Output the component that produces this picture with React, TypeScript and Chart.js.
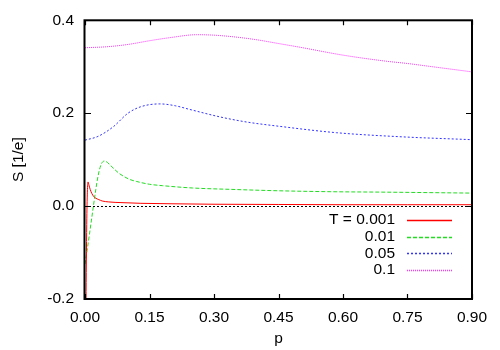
import React, { useEffect, useRef } from "react";
import { Chart, registerables } from "chart.js";

Chart.register(...registerables);

const LABELS = ["T = 0.001", "0.01", "0.05", "0.1"];
const COLORS = ["#ff0000", "#22dd22", "#3333ff", "#ff33ff"];
const DASHES: number[][] = [[], [4, 2], [2, 2], [1, 1]];

const P_T001 = [0, 0.0023, 0.004, 0.0055, 0.007, 0.009, 0.012, 0.016, 0.02, 0.025, 0.032, 0.04, 0.055, 0.07, 0.1, 0.13, 0.2, 0.3, 0.45, 0.6, 0.75, 0.9];
const S_T001 = [-0.3, -0.2, -0.04, 0.03, 0.052, 0.046, 0.036, 0.027, 0.021, 0.017, 0.014, 0.011, 0.009, 0.008, 0.007, 0.006, 0.005, 0.004, 0.0035, 0.003, 0.003, 0.003];

const P_T01 = [0, 0.005, 0.01, 0.015, 0.02, 0.025, 0.03, 0.035, 0.04, 0.046, 0.052, 0.06, 0.07, 0.08, 0.09, 0.105, 0.12, 0.15, 0.18, 0.25, 0.34, 0.45, 0.57, 0.7, 0.9];
const S_T01 = [-0.125, -0.095, -0.063, -0.03, 0.003, 0.035, 0.063, 0.083, 0.094, 0.097, 0.094, 0.087, 0.078, 0.07, 0.064, 0.057, 0.053, 0.047, 0.044, 0.039, 0.036, 0.033, 0.031, 0.03, 0.028];

const P_T05 = [0, 0.03, 0.066, 0.1, 0.13, 0.174, 0.21, 0.244, 0.314, 0.376, 0.45, 0.585, 0.74, 0.9];
const S_T05 = [0.142, 0.15, 0.171, 0.2, 0.214, 0.22, 0.216, 0.208, 0.192, 0.181, 0.172, 0.158, 0.149, 0.143];

const P_T1 = [0, 0.05, 0.1, 0.15, 0.2, 0.26, 0.3, 0.35, 0.4, 0.45, 0.5, 0.6, 0.7, 0.75, 0.8, 0.9];
const S_T1 = [0.341, 0.343, 0.348, 0.356, 0.363, 0.369, 0.368, 0.364, 0.358, 0.35, 0.342, 0.325, 0.312, 0.307, 0.301, 0.289];

const X_TICKS = [0, 0.15, 0.3, 0.45, 0.6, 0.75, 0.9];
const Y_TICKS = [-0.2, 0, 0.2, 0.4];

const FONT = "'Liberation Sans', Arial, sans-serif";
const FS = 15.5;

const pts = (xs: number[], ys: number[]) => xs.map((x, i) => ({ x, y: ys[i] }));

const framePlugin = {
  id: "frame",
  afterDatasetsDraw(chart: any) {
    const { ctx, chartArea: a, scales } = chart;
    ctx.save();
    // zero axis
    const y0 = Math.round(scales.y.getPixelForValue(0)) + 0.5;
    ctx.strokeStyle = "#000";
    ctx.lineWidth = 1;
    ctx.setLineDash([2, 2]);
    ctx.beginPath();
    ctx.moveTo(a.left, y0);
    ctx.lineTo(a.right, y0);
    ctx.stroke();
    ctx.setLineDash([]);
    // frame
    ctx.lineWidth = 2;
    ctx.strokeRect(a.left - 0.5, a.top, a.right - a.left + 0.5, a.bottom - a.top);
    // inward ticks
    ctx.lineWidth = 1.2;
    ctx.beginPath();
    X_TICKS.forEach((v) => {
      const x = Math.round(scales.x.getPixelForValue(v)) + 0.5;
      ctx.moveTo(x, a.bottom);
      ctx.lineTo(x, a.bottom - 5);
      ctx.moveTo(x, a.top);
      ctx.lineTo(x, a.top + 5);
    });
    Y_TICKS.forEach((v) => {
      const y = Math.round(scales.y.getPixelForValue(v)) + 0.5;
      ctx.moveTo(a.left, y);
      ctx.lineTo(a.left + 6, y);
      ctx.moveTo(a.right, y);
      ctx.lineTo(a.right - 6, y);
    });
    ctx.stroke();
    // legend
    ctx.font = FS + "px " + FONT;
    ctx.textAlign = "right";
    ctx.textBaseline = "middle";
    LABELS.forEach((label, i) => {
      const y = 220 + i * 16.7;
      ctx.fillStyle = "#000";
      ctx.fillText(label, 395, y);
      ctx.strokeStyle = COLORS[i];
      ctx.lineWidth = 1.5;
      ctx.setLineDash(DASHES[i]);
      ctx.beginPath();
      ctx.moveTo(407, Math.round(y) + 0.5);
      ctx.lineTo(452, Math.round(y) + 0.5);
      ctx.stroke();
    });
    ctx.restore();
  },
};

export default function App() {
  const ref = useRef<HTMLCanvasElement>(null);
  useEffect(() => {
    if (!ref.current) return;
    const series = [pts(P_T001, S_T001), pts(P_T01, S_T01), pts(P_T05, S_T05), pts(P_T1, S_T1)];
    const chart = new Chart(ref.current, {
      type: "line",
      data: {
        datasets: series.map((data, i) => ({
          label: LABELS[i],
          data,
          borderColor: COLORS[i],
          borderDash: DASHES[i],
          borderWidth: 1,
          pointRadius: 0,
          fill: false,
          cubicInterpolationMode: "monotone" as const,
        })),
      },
      options: {
        animation: false,
        responsive: false,
        maintainAspectRatio: false,
        layout: { padding: { left: 0, top: 20, right: 28, bottom: 0 } },
        plugins: { legend: { display: false }, tooltip: { enabled: false } },
        scales: {
          x: {
            type: "linear",
            min: 0,
            max: 0.9,
            afterBuildTicks: (s: any) => { s.ticks = X_TICKS.map((v) => ({ value: v })); },
            afterFit: (s: any) => { s.height = 51; },
            grid: { display: false, drawTicks: false },
            border: { display: false },
            ticks: { color: "#000", font: { family: FONT, size: FS }, padding: 9, maxRotation: 0, autoSkip: false, callback: (v: any) => Number(v).toFixed(2) },
            title: { display: true, text: "p", color: "#000", font: { family: FONT, size: FS }, padding: { top: 0, bottom: 2 } },
          },
          y: {
            type: "linear",
            min: -0.2,
            max: 0.4,
            afterBuildTicks: (s: any) => { s.ticks = Y_TICKS.map((v) => ({ value: v })); },
            afterFit: (s: any) => { s.width = 85; },
            grid: { display: false, drawTicks: false },
            border: { display: false },
            ticks: { color: "#000", font: { family: FONT, size: FS }, padding: 11, autoSkip: false, callback: (v: any) => Number(v).toFixed(1) },
            title: { display: true, text: "S [1/e]", color: "#000", font: { family: FONT, size: FS }, padding: { top: 9, bottom: 0 } },
          },
        },
      },
      plugins: [framePlugin],
    });
    return () => chart.destroy();
  }, []);
  return (
    <div style={{ position: "fixed", left: 0, top: 0, width: 500, height: 350, background: "#fff" }}>
      <canvas ref={ref} width={500} height={350} style={{ width: 500, height: 350 }} />
    </div>
  );
}
